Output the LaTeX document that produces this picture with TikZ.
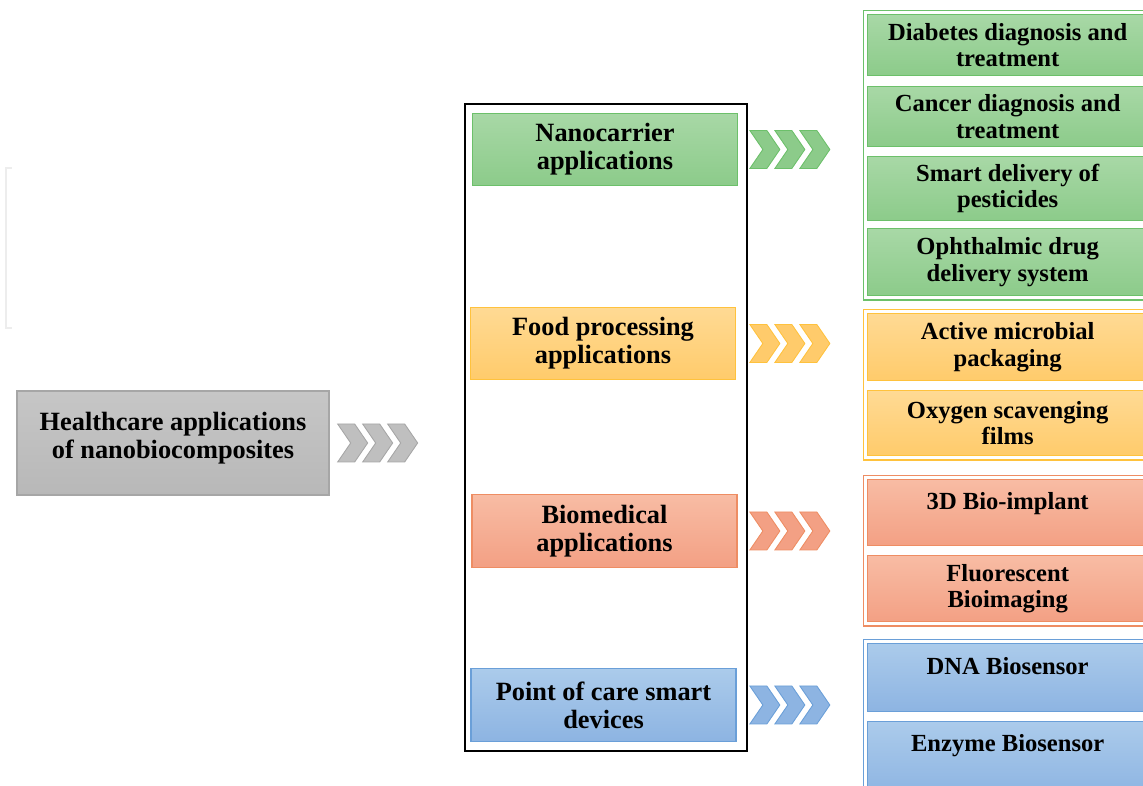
\documentclass[tikz,border=0pt]{standalone}
\usepackage{fontspec}
\setmainfont{Liberation Serif}
\usetikzlibrary{positioning,fit}
\definecolor{graytop}{HTML}{C6C6C6}
\definecolor{graybot}{HTML}{B8B8B8}
\definecolor{grayline}{HTML}{A6A6A6}
\definecolor{grntop}{HTML}{A8D8A6}
\definecolor{grnbot}{HTML}{8CCB8A}
\definecolor{grnline}{HTML}{6CC06A}
\definecolor{orgtop}{HTML}{FFDA94}
\definecolor{orgbot}{HTML}{FFCB6B}
\definecolor{orgline}{HTML}{FFC23D}
\definecolor{saltop}{HTML}{F8BCA4}
\definecolor{salbot}{HTML}{F3A084}
\definecolor{salline}{HTML}{EE8D63}
\definecolor{blutop}{HTML}{ABCBEB}
\definecolor{blubot}{HTML}{8DB4E2}
\definecolor{bluline}{HTML}{6A9FD8}
\definecolor{faint}{HTML}{EDEDED}
\tikzset{
box/.style={draw,line width=.8pt,align=center,inner sep=2pt,font=\bfseries\fontsize{15}{16}\selectfont,text=black},
catbox/.style={box,minimum width=5.3cm,minimum height=1.45cm},
itembox/.style={box,anchor=north west,minimum width=5.6cm,font=\bfseries\fontsize{14}{15}\selectfont},
grnbox/.style={draw=grnline,top color=grntop,bottom color=grnbot},
orgbox/.style={draw=orgline,top color=orgtop,bottom color=orgbot},
salbox/.style={draw=salline,top color=saltop,bottom color=salbot},
blubox/.style={draw=bluline,top color=blutop,bottom color=blubot},
grp/.style={draw=#1,line width=.9pt,inner sep=0.07cm},
chev/.style={line width=.5pt}}
\begin{document}
\begin{tikzpicture}[x=0.02cm,y=-0.02cm]
\useasboundingbox (0,0) rectangle (1143,786);
\clip (0,0) rectangle (1143,786);
% faint bracket on the left
\draw[faint,line width=1.2pt] (12,168) -- (6,168) -- (6,328) -- (12,328);
% source box
\node[box,draw=grayline,top color=graytop,bottom color=graybot,minimum width=6.24cm,minimum height=2.08cm,text depth=0.31cm] (health) at (173,443) {Healthcare applications\\of nanobiocomposites};
% middle frame and categories
\node[draw=black,line width=1pt,minimum width=5.64cm,minimum height=12.94cm] (frame) at (606,427.5) {};
\node[catbox,grnbox] (nano) at (605,149.5) {Nanocarrier\\applications};
\node[catbox,orgbox] (food) at (603,343.5) {Food processing\\applications};
\node[catbox,salbox] (bio) at (604.5,531) {Biomedical\\applications};
\node[catbox,blubox] (poc) at (603.5,705) {Point of care smart\\devices};
% right column
\node[itembox,grnbox,minimum height=1.22cm] (diab) at (867,14) {Diabetes diagnosis and\\treatment};
\node[itembox,grnbox,minimum height=1.2cm] (canc) at (867,86) {Cancer diagnosis and\\treatment};
\node[itembox,grnbox,minimum height=1.28cm] (pest) at (867,156) {Smart delivery of\\pesticides};
\node[itembox,grnbox,minimum height=1.34cm] (opht) at (867,228) {Ophthalmic drug\\delivery system};
\node[itembox,orgbox,minimum height=1.34cm] (pack) at (867,313) {Active microbial\\packaging};
\node[itembox,orgbox,minimum height=1.3cm] (oxy) at (867,390) {Oxygen scavenging\\films};
\node[itembox,salbox,minimum height=1.32cm,text depth=0.45cm] (impl) at (867,479) {3D Bio-implant};
\node[itembox,salbox,minimum height=1.32cm] (fluo) at (867,555) {Fluorescent\\Bioimaging};
\node[itembox,blubox,minimum height=1.36cm,text depth=0.45cm] (dna) at (867,643) {DNA Biosensor};
\node[itembox,blubox,minimum height=1.5cm,text depth=0.64cm] (enz) at (867,721) {Enzyme Biosensor};
\node[grp=grnline,fit=(diab)(opht)] (nanogrp) {};
\node[grp=orgline,fit=(pack)(oxy)] (foodgrp) {};
\node[grp=salline,fit=(impl)(fluo)] (biogrp) {};
\node[grp=bluline,fit=(dna)(enz)] (pocgrp) {};
% chevron arrows
\foreach \k in {0,1,2}
  \filldraw[chev,fill=graybot!90!white,draw=grayline,shift={(health.east)},xshift=0.16cm+\k*0.5cm] (0,-19) -- (17,-19) -- (30,0) -- (17,19) -- (0,19) -- (13,0) -- cycle;
\foreach \src/\cf/\cd in {nano/grnbot/grnline,food/orgbot/orgline,bio/salbot/salline,poc/blubot/bluline}
  \foreach \k in {0,1,2}
    \filldraw[chev,fill=\cf,draw=\cd,shift={(frame.east |- \src.east)},xshift=0.04cm+\k*0.5cm] (0,-19) -- (17,-19) -- (30,0) -- (17,19) -- (0,19) -- (13,0) -- cycle;
\end{tikzpicture}
\end{document}
